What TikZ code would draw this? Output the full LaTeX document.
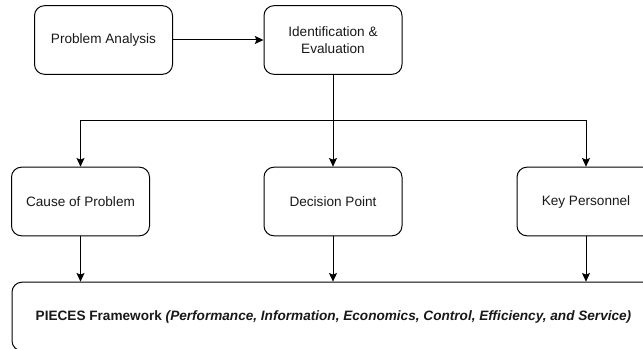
\documentclass[tikz,border=0pt]{standalone}
\usepackage{fontspec}
\setmainfont{Liberation Sans}
\usetikzlibrary{arrows.meta}
\begin{document}
\begin{tikzpicture}[x=0.75pt,y=-0.75pt,
  box/.style={draw=black, line width=0.75pt, rounded corners=7.5pt, fill=white,
    minimum width=103.5pt, minimum height=51.5pt, align=center,
    font=\fontsize{10.2pt}{12.3pt}\selectfont, text=black!90, inner sep=2pt},
  wide/.style={box, minimum width=482.25pt},
  link/.style={draw=black, line width=0.75pt},
  arrow/.style={link, -{Stealth[length=6.5pt,width=6pt,inset=1.2pt]}}]
  \useasboundingbox (0,0) rectangle (643,349);
  % top row
  \node[box] (analysis) at (103.5,40) {Problem Analysis};
  \node[box] (ident) at (333,40) {Identification \&\\Evaluation};
  % middle row
  \node[box] (cause) at (80.5,201.5) {Cause of Problem};
  \node[box] (decision) at (333,201.5) {Decision Point};
  \node[box] (personnel) at (586,201.5) {Key Personnel};
  % framework
  \node[wide] (pieces) at (333.5,316.5) {\textbf{PIECES Framework} \textbf{\textit{(Performance, Information, Economics, Control, Efficiency, and Service)}}};
  % connectors
  \draw[arrow] (analysis) -- (ident);
  \coordinate (hub) at (333,121);
  \draw[link] (ident) -- (hub);
  \draw[arrow] (hub) -| (cause.north);
  \draw[arrow] (hub) -- (decision);
  \draw[arrow] (hub) -| (personnel.north);
  \draw[arrow] (cause) -- (cause.south |- pieces.north);
  \draw[arrow] (decision) -- (decision.south |- pieces.north);
  \draw[arrow] (personnel) -- (personnel.south |- pieces.north);
\end{tikzpicture}
\end{document}
